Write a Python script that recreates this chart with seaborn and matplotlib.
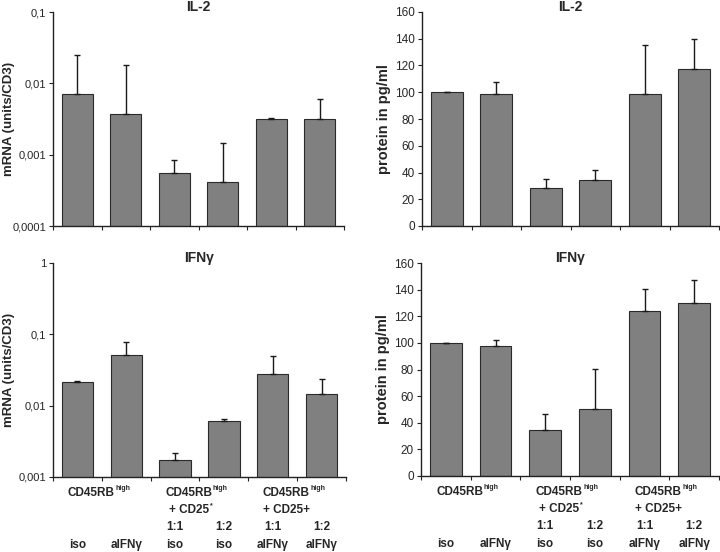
import numpy as np
import pandas as pd
import seaborn as sns
import matplotlib.pyplot as plt
from matplotlib.transforms import blended_transform_factory

sns.set_style('ticks')
plt.rcParams['font.family'] = ['Liberation Sans', 'DejaVu Sans']

# data
conditions = ['c1', 'c2', 'c3', 'c4', 'c5', 'c6']

il2_mrna = [0.0072, 0.00377, 0.000555, 0.000419, 0.00317, 0.00314]
il2_mrna_err = [0.0247, 0.0183, 0.00085, 0.00144, 0.00322, 0.0060]
il2_protein = [100, 98.5, 28.4, 34.2, 98.5, 117.1]
il2_protein_err = [100, 108, 35, 42, 135.3, 140]

ifng_mrna = [0.0218, 0.051, 0.00175, 0.00607, 0.0281, 0.0145]
ifng_mrna_err = [0.0225, 0.078, 0.00218, 0.0065, 0.050, 0.024]
ifng_protein = [100, 97.9, 34.6, 50.3, 123.7, 129.7]
ifng_protein_err = [100, 102.2, 46.4, 80.2, 140.7, 147]

log_ticks = [[0.0001, 0.001, 0.01, 0.1], [0.001, 0.01, 0.1, 1]]
log_ticklabels = [['0,0001', '0,001', '0,01', '0,1'], ['0,001', '0,01', '0,1', '1']]
lin_ticks = [0, 20, 40, 60, 80, 100, 120, 140, 160]

group_labels = ['CD45RB', 'CD45RB', 'CD45RB']
group_sup = 'high'
group_sub = ['', '+ CD25', '+ CD25+']
group_sub_sup = ['', '*', '']
ratio_labels = ['', '', '1:1', '1:2', '1:1', '1:2']
treat_labels = ['iso', 'aIFNγ', 'iso', 'iso', 'aIFNγ', 'aIFNγ']

fig = plt.figure(figsize=(7.2, 5.52), dpi=100)
W, H = 720, 552


def make_ax(x0, x1, ytop, ybot):
    return fig.add_axes([x0 / W, 1 - ybot / H, (x1 - x0) / W, (ybot - ytop) / H])


ax_tl = make_ax(53, 344, 12, 226)
ax_tr = make_ax(422, 719, 12, 226)
ax_bl = make_ax(53, 346, 263, 477)
ax_br = make_ax(421, 719, 263, 476)


def draw(ax, vals, errs, title, ylabel, log, ylim, ticks, ticklabels, ylab_x, ylab_size, tick_size):
    df = pd.DataFrame({'cond': conditions, 'val': vals})
    sns.barplot(data=df, x='cond', y='val', ax=ax, color='#808080', saturation=1,
                edgecolor='#2a2a2a', linewidth=0.8, width=0.64, errorbar=None)
    up = np.array(errs) - np.array(vals)
    ax.errorbar(np.arange(len(vals)), vals, yerr=[np.zeros(len(vals)), up],
                fmt='none', ecolor='#1a1a1a', elinewidth=1, capsize=2, capthick=1, zorder=5)
    if log:
        ax.set_yscale('log')
    ax.set_ylim(*ylim)
    ax.set_xlim(-0.5, 5.5)
    ax.set_yticks(ticks)
    ax.set_yticklabels(ticklabels, fontsize=tick_size)
    ax.minorticks_off()
    ax.set_xticks(np.arange(-0.5, 6, 1))
    ax.set_xticklabels([])
    ax.tick_params(axis='both', direction='out', length=3, width=0.8, color='#222222', pad=2)
    ax.set_xlabel('')
    ax.set_ylabel(ylabel, fontsize=ylab_size, fontweight='bold')
    ax.yaxis.set_label_coords(ylab_x, 0.5)
    ax.text(0.5, 1.025, title, transform=ax.transAxes, ha='center', va='center',
            fontsize=10, fontweight='bold')
    sns.despine(ax=ax)
    for s in ['left', 'bottom']:
        ax.spines[s].set_linewidth(1.0)
        ax.spines[s].set_color('#222222')


draw(ax_tl, il2_mrna, il2_mrna_err, 'IL-2', 'mRNA (units/CD3)', True, (0.0001, 0.1),
     log_ticks[0], log_ticklabels[0], -0.13, 9.5, 8)
draw(ax_tr, il2_protein, il2_protein_err, 'IL-2', 'protein in pg/ml', False, (0, 160),
     lin_ticks, [str(t) for t in lin_ticks], -0.104, 10.5, 8.5)
draw(ax_bl, ifng_mrna, ifng_mrna_err, 'IFNγ', 'mRNA (units/CD3)', True, (0.001, 1),
     log_ticks[1], log_ticklabels[1], -0.13, 9.5, 8)
draw(ax_br, ifng_protein, ifng_protein_err, 'IFNγ', 'protein in pg/ml', False, (0, 160),
     lin_ticks, [str(t) for t in lin_ticks], -0.104, 10.5, 8.5)

# category labels under the bottom panels
fs = 8.5
for ax in [ax_bl, ax_br]:
    tr = blended_transform_factory(ax.transData, ax.transAxes)
    for g in range(3):
        xc = 2 * g + 0.5 - 0.22
        t = ax.text(xc, -0.075, group_labels[g], transform=tr, ha='center', va='center',
                    fontsize=fs, fontweight='bold')
        ax.annotate(group_sup, xy=(1, 0.55), xycoords=t, xytext=(0.5, 0),
                    textcoords='offset points', fontsize=5, fontweight='bold', va='bottom')
        if group_sub[g]:
            s = ax.text(xc, -0.155, group_sub[g], transform=tr, ha='center', va='center',
                        fontsize=fs, fontweight='bold')
            if group_sub_sup[g]:
                ax.annotate(group_sub_sup[g], xy=(1, 0.55), xycoords=s, xytext=(0.5, 0),
                            textcoords='offset points', fontsize=5, fontweight='bold', va='bottom')
    for i in range(6):
        if ratio_labels[i]:
            ax.text(i, -0.235, ratio_labels[i], transform=tr, ha='center', va='center',
                    fontsize=fs, fontweight='bold')
        ax.text(i, -0.318, treat_labels[i], transform=tr, ha='center', va='center',
                fontsize=fs, fontweight='bold')

fig.savefig('out.png', dpi=100)
